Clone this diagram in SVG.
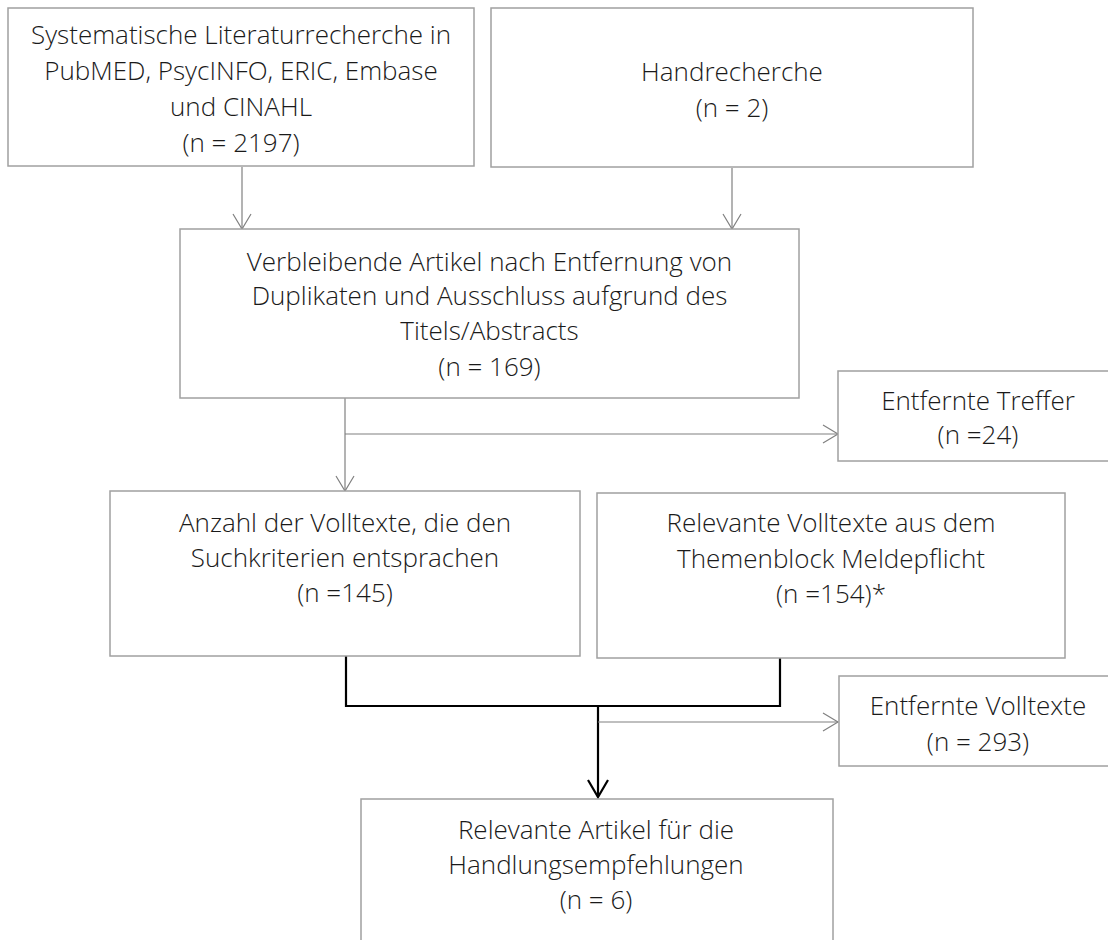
<svg xmlns="http://www.w3.org/2000/svg" width="1108" height="940" viewBox="0 0 1108 940">
<defs>
<style>
.box{fill:#fff;stroke:#a0a0a0;stroke-width:1.5}
.t{font-family:"Open Sans","Liberation Sans",sans-serif;font-weight:300;font-size:26px;fill:#1a1a1a;text-anchor:middle}
.thin{fill:none;stroke:#808080;stroke-width:1.2}
.thick{fill:none;stroke:#000;stroke-width:2.2}
</style>
<marker id="ah" markerWidth="20" markerHeight="22" refX="16" refY="10" orient="auto" markerUnits="userSpaceOnUse">
<path d="M1,1 L16,10 L1,19" fill="none" stroke="#808080" stroke-width="1.2"/>
</marker>
<marker id="ahk" markerWidth="22" markerHeight="24" refX="18" refY="11" orient="auto" markerUnits="userSpaceOnUse">
<path d="M1,1 L18,11 L1,21" fill="none" stroke="#000" stroke-width="2.2"/>
</marker>
</defs>
<rect width="1108" height="940" fill="#fff"/>
<g id="connectors">
<line class="thin" x1="242" y1="167" x2="242" y2="229" marker-end="url(#ah)"/>
<line class="thin" x1="732" y1="168" x2="732" y2="229" marker-end="url(#ah)"/>
<line class="thin" x1="345" y1="398" x2="345" y2="491" marker-end="url(#ah)"/>
<line class="thin" x1="345" y1="434" x2="838" y2="434" marker-end="url(#ah)"/>
<polyline class="thick" points="346,656 346,706 780,706 780,658"/>
<line class="thick" x1="598" y1="706" x2="598" y2="797" marker-end="url(#ahk)"/>
<line class="thin" x1="598" y1="722" x2="838" y2="722" marker-end="url(#ah)"/>
</g>
<g id="n1">
<rect class="box" x="8" y="8" width="466" height="158"/>
<text class="t" x="241" y="44">Systematische Literaturrecherche in</text>
<text class="t" x="241" y="80">PubMED, PsycINFO, ERIC, Embase</text>
<text class="t" x="241" y="116">und CINAHL</text>
<text class="t" x="241" y="152">(n = 2197)</text>
</g>
<g id="n2">
<rect class="box" x="491" y="8" width="482" height="159"/>
<text class="t" x="732" y="81">Handrecherche</text>
<text class="t" x="732" y="117">(n = 2)</text>
</g>
<g id="n3">
<rect class="box" x="180" y="229" width="619" height="169"/>
<text class="t" x="489.5" y="271">Verbleibende Artikel nach Entfernung von</text>
<text class="t" x="489.5" y="305">Duplikaten und Ausschluss aufgrund des</text>
<text class="t" x="489.5" y="340">Titels/Abstracts</text>
<text class="t" x="489.5" y="376">(n = 169)</text>
</g>
<g id="n4">
<rect class="box" x="838" y="371" width="290" height="90"/>
<text class="t" x="978" y="410">Entfernte Treffer</text>
<text class="t" x="978" y="444">(n =24)</text>
</g>
<g id="n5">
<rect class="box" x="110" y="491" width="470" height="165"/>
<text class="t" x="345" y="532">Anzahl der Volltexte, die den</text>
<text class="t" x="345" y="567">Suchkriterien entsprachen</text>
<text class="t" x="345" y="602">(n =145)</text>
</g>
<g id="n6">
<rect class="box" x="597" y="493" width="468" height="165"/>
<text class="t" x="831" y="532">Relevante Volltexte aus dem</text>
<text class="t" x="831" y="568">Themenblock Meldepflicht</text>
<text class="t" x="831" y="603">(n =154)*</text>
</g>
<g id="n7">
<rect class="box" x="839" y="676" width="290" height="90"/>
<text class="t" x="978" y="715">Entfernte Volltexte</text>
<text class="t" x="978" y="751">(n = 293)</text>
</g>
<g id="n8">
<rect class="box" x="361" y="799" width="472" height="160"/>
<text class="t" x="596" y="839">Relevante Artikel für die</text>
<text class="t" x="596" y="874">Handlungsempfehlungen</text>
<text class="t" x="596" y="909">(n = 6)</text>
</g>
</svg>
